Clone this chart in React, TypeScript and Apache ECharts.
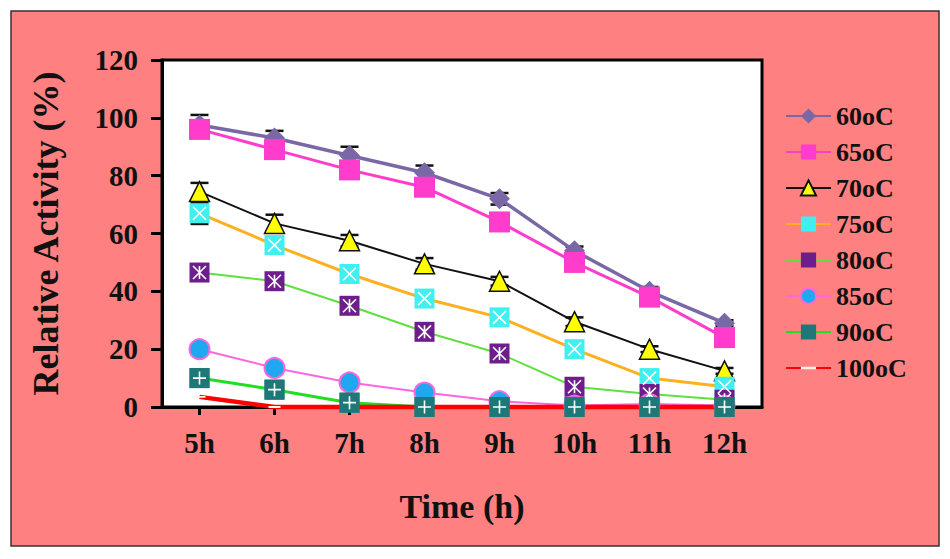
import React, { useEffect, useRef } from "react";
import * as echarts from "echarts";

const categories = ["5h", "6h", "7h", "8h", "9h", "10h", "11h", "12h"];
const seriesNames = ["60oC", "65oC", "70oC", "75oC", "80oC", "85oC", "90oC", "100oC"];

const s60 = [97.5, 93, 87, 81, 72, 54, 40, 29];
const s65 = [96, 89, 82, 76, 64, 50, 38, 24];
const s70 = [74.5, 63.5, 57.5, 49.5, 43.5, 29.5, 20, 12.5];
const s75 = [67, 56, 46, 37.5, 31, 20, 10, 7];
const s80 = [46.5, 43.5, 35, 26, 18.5, 7, 4.5, 2.5];
const s85 = [20, 13.5, 8.5, 5, 2, 0.5, 1, 0.5];
const s90 = [10, 6, 1.5, 0, 0, 0, 0, 0];
const s100 = [3.5, 0, 0, 0, 0, 0, 0, 0];

// error bar half-widths (0 = none visible)
const e60 = [3.5, 2.5, 3, 2.5, 2, 1.5, 1.5, 1];
const e70 = [3, 3, 2, 2, 1.5, 1.5, 1, 1];
const e75 = [3.7, 1, 1, 1, 1, 1, 1, 1];

const yMin = 0;
const yMax = 120;
const yStep = 20;

const FONT = "'Liberation Serif', 'Times New Roman', serif";

const PATH_X = "path://M0,0 L20,20 M20,0 L0,20";
const PATH_AST = "path://M0,0 L20,20 M20,0 L0,20 M10,0 L10,20";
const PATH_PLUS = "path://M10,0 L10,20 M0,10 L20,10";
const PATH_DASH = "path://M0,0 L0.01,0 L0,0.01 Z M0,8.5 L20,8.5 L20,11.5 L0,11.5 Z M20,20 L19.99,20 L20,19.99 Z";

export default function App() {
  const ref = useRef<HTMLDivElement>(null);

  useEffect(() => {
    if (!ref.current) return;
    const chart = echarts.init(ref.current, undefined, { renderer: "svg" });

    const errData: number[][] = [];
    const addErr = (vals: number[], errs: number[]) => {
      vals.forEach((v, i) => {
        if (errs[i] > 0) errData.push([i, v - errs[i], v + errs[i]]);
      });
    };
    addErr(s60, e60);
    addErr(s70, e70);
    addErr(s75, e75);

    const lineSeries = (
      name: string,
      data: number[],
      lineColor: string,
      lineWidth: number,
      symbol: string,
      symbolSize: number | number[],
      itemStyle: any,
      extra: any = {}
    ) => ({
      name,
      type: "line",
      z: 3,
      data,
      symbol,
      symbolSize,
      showAllSymbol: true,
      lineStyle: { color: lineColor, width: lineWidth },
      itemStyle: { ...itemStyle, opacity: 1 },
      emphasis: { disabled: true },
      ...extra,
    });

    const overlay = (data: number[], path: string, size: number, z: number) => ({
      name: "",
      type: "scatter",
      z,
      data,
      symbol: path,
      symbolSize: size,
      silent: true,
      itemStyle: { color: "none", borderColor: "#ffffff", borderWidth: 1.6, opacity: 1 },
      emphasis: { disabled: true },
    });

    const option: any = {
      animation: false,
      backgroundColor: "#ffffff",
      graphic: [
        {
          type: "rect",
          z: -10,
          shape: { x: 11, y: 11, width: 928, height: 535 },
          style: { fill: "#FF8080", stroke: "#333333", lineWidth: 1.5 },
          silent: true,
        },
      ],
      grid: {
        left: 162,
        top: 60,
        width: 600,
        height: 347,
        show: true,
        backgroundColor: "#ffffff",
        borderColor: "#000000",
        borderWidth: 3,
      },
      legend: {
        orient: "vertical",
        left: 780,
        top: 98,
        itemWidth: 45,
        itemHeight: 19,
        itemGap: 10,
        data: seriesNames,
        textStyle: {
          fontFamily: FONT,
          fontWeight: "bold",
          fontSize: 26,
          lineHeight: 25,
          color: "#111111",
        },
      },
      xAxis: {
        type: "category",
        data: categories,
        boundaryGap: true,
        name: "Time (h)",
        nameLocation: "middle",
        nameGap: 82,
        nameTextStyle: { fontFamily: FONT, fontWeight: "bold", fontSize: 34, color: "#111111" },
        axisLine: { show: true, lineStyle: { color: "#000000", width: 3 } },
        axisTick: { show: true, alignWithLabel: true, length: 8, lineStyle: { color: "#000000", width: 3 } },
        axisLabel: { fontFamily: FONT, fontWeight: "bold", fontSize: 29, color: "#111111", margin: 21 },
        splitLine: { show: false },
      },
      yAxis: {
        type: "value",
        min: yMin,
        max: yMax,
        interval: yStep,
        name: "Relative Activity (%)",
        nameLocation: "middle",
        nameGap: 98,
        nameTextStyle: { fontFamily: FONT, fontWeight: "bold", fontSize: 36, color: "#111111" },
        axisLine: { show: true, lineStyle: { color: "#000000", width: 3 } },
        axisTick: { show: true, inside: false, length: 11, lineStyle: { color: "#000000", width: 3 } },
        axisLabel: { fontFamily: FONT, fontWeight: "bold", fontSize: 29, color: "#111111", margin: 24 },
        splitLine: { show: false },
      },
      series: [
        {
          name: "err",
          type: "custom",
          data: errData,
          encode: { x: 0, y: [1, 2] },
          silent: true,
          z: 1,
          renderItem: (params: any, api: any) => {
            const x = api.value(0);
            const lo = api.coord([x, api.value(1)]);
            const hi = api.coord([x, api.value(2)]);
            const w = 9;
            const st = { stroke: "#111111", lineWidth: 2.5 };
            return {
              type: "group",
              children: [
                { type: "line", shape: { x1: hi[0], y1: hi[1], x2: lo[0], y2: lo[1] }, style: st },
                { type: "line", shape: { x1: hi[0] - w, y1: hi[1], x2: hi[0] + w, y2: hi[1] }, style: st },
                { type: "line", shape: { x1: lo[0] - w, y1: lo[1], x2: lo[0] + w, y2: lo[1] }, style: st },
              ],
            };
          },
        },
        lineSeries("60oC", s60, "#7A68A6", 3.5, "diamond", 21, { color: "#7A68A6" }),
        lineSeries("65oC", s65, "#FF3CCB", 3, "rect", 21, { color: "#FF3CCB" }),
        lineSeries("70oC", s70, "#111111", 2, "triangle", 20, {
          color: "#FFFF00",
          borderColor: "#111111",
          borderWidth: 1.5,
        }),
        lineSeries("75oC", s75, "#FFB020", 3, "rect", 20, { color: "#40F0F0" }),
        lineSeries("80oC", s80, "#5FE040", 2, "rect", 20, { color: "#6E1E8C" }),
        lineSeries("85oC", s85, "#FF66DD", 2, "circle", 20, {
          color: "#1EA8F0",
          borderColor: "#FF66DD",
          borderWidth: 2,
        }),
        lineSeries("90oC", s90, "#22DD22", 3, "rect", 20, { color: "#1F7878" }),
        lineSeries("100oC", s100, "#FF0000", 4.5, PATH_DASH, 12, { color: "#FFF2E6" }, { clip: false }),
        overlay(s75, PATH_X, 13, 4),
        overlay(s80, PATH_AST, 13, 4),
        {
          name: "",
          type: "scatter",
          z: 4,
          data: s90,
          symbol: "rect",
          symbolSize: 20,
          silent: true,
          itemStyle: { color: "#1F7878", opacity: 1 },
          emphasis: { disabled: true },
        },
        overlay(s90, PATH_PLUS, 13, 5),
      ],
    };

    chart.setOption(option);
    return () => chart.dispose();
  }, []);

  return (
    <div
      ref={ref}
      style={{ position: "fixed", left: 0, top: 0, width: 950, height: 559, background: "#ffffff" }}
    />
  );
}
